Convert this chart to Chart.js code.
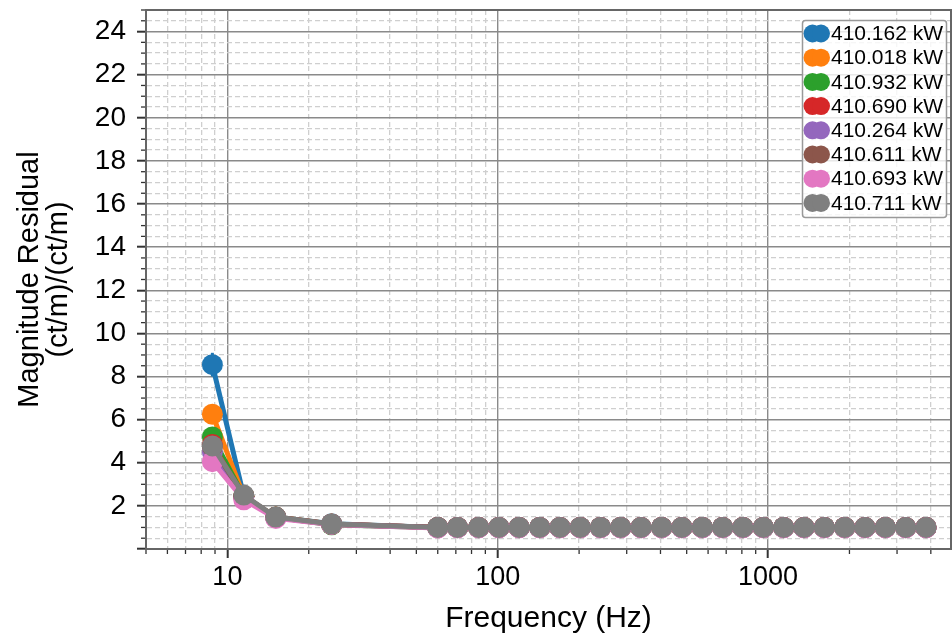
<!DOCTYPE html>
<html>
<head>
<meta charset="utf-8">
<script src="https://cdn.jsdelivr.net/npm/chart.js@4.4.1/dist/chart.umd.min.js"></script>
<style>
  body { margin: 0; background: #fff; }
  #wrap { width: 952px; height: 638px; }
</style>
</head>
<body>
<div id="wrap"><canvas id="chart" width="952" height="638"></canvas></div>
<script>
// Frequencies (Hz)
const freqs = [8.8, 11.5, 15.1, 24.3, 60, 71, 85, 101, 120, 143, 170, 202, 240, 285, 339, 404,
  480, 571, 679, 807, 960, 1142, 1358, 1615, 1920, 2283, 2715, 3229, 3840];

const labels = ['410.162 kW', '410.018 kW', '410.932 kW', '410.690 kW',
  '410.264 kW', '410.611 kW', '410.693 kW', '410.711 kW'];
const colors = ['#1f77b4', '#ff7f0e', '#2ca02c', '#d62728', '#9467bd', '#8c564b', '#e377c2', '#7f7f7f'];

// Magnitude residual per series
const blue = [8.55, 2.45, 1.48, 1.17, 1.0, 1.0, 1.0, 1.0, 1.0, 1.0, 1.0, 1.0, 1.0, 1.0, 1.0, 1.0, 1.0, 1.0, 1.0, 1.0, 1.0, 1.0, 1.0, 1.0, 1.0, 1.0, 1.0, 1.0, 1.0];
const orange = [6.25, 2.45, 1.48, 1.16, 1.0, 1.0, 1.0, 1.0, 1.0, 1.0, 1.0, 1.0, 1.0, 1.0, 1.0, 1.0, 1.0, 1.0, 1.0, 1.0, 1.0, 1.0, 1.0, 1.0, 1.0, 1.0, 1.0, 1.0, 1.0];
const green = [5.2, 2.45, 1.47, 1.12, 0.99, 0.99, 0.99, 0.99, 0.99, 0.99, 0.99, 0.99, 0.99, 0.99, 0.99, 0.99, 0.99, 0.99, 0.99, 0.99, 0.99, 0.99, 0.99, 0.99, 0.99, 0.99, 0.99, 0.99, 0.99];
const red = [4.85, 2.45, 1.47, 1.15, 1.0, 1.0, 1.0, 1.0, 1.0, 1.0, 1.0, 1.0, 1.0, 1.0, 1.0, 1.0, 1.0, 1.0, 1.0, 1.0, 1.0, 1.0, 1.0, 1.0, 1.0, 1.0, 1.0, 1.0, 1.0];
const purple = [4.5, 2.4, 1.46, 1.15, 1.0, 1.0, 1.0, 1.0, 1.0, 1.0, 1.0, 1.0, 1.0, 1.0, 1.0, 1.0, 1.0, 1.0, 1.0, 1.0, 1.0, 1.0, 1.0, 1.0, 1.0, 1.0, 1.0, 1.0, 1.0];
const brown = [4.75, 2.45, 1.47, 1.15, 1.0, 1.0, 1.0, 1.0, 1.0, 1.0, 1.0, 1.0, 1.0, 1.0, 1.0, 1.0, 1.0, 1.0, 1.0, 1.0, 1.0, 1.0, 1.0, 1.0, 1.0, 1.0, 1.0, 1.0, 1.0];
const pink = [4.05, 2.28, 1.42, 1.14, 0.97, 0.98, 0.98, 0.98, 0.98, 0.98, 0.98, 0.98, 0.98, 0.98, 0.98, 0.98, 0.98, 0.98, 0.98, 0.98, 0.98, 0.98, 0.98, 0.98, 0.98, 0.98, 0.98, 0.98, 0.98];
const gray = [4.78, 2.5, 1.48, 1.16, 1.0, 1.0, 1.0, 1.0, 1.0, 1.0, 1.0, 1.0, 1.0, 1.0, 1.0, 1.0, 1.0, 1.0, 1.0, 1.0, 1.0, 1.0, 1.0, 1.0, 1.0, 1.0, 1.0, 1.0, 1.0];
const series = [blue, orange, green, red, purple, brown, pink, gray];

// Error on the lowest-frequency point of each series
const lowErr = [0.55, 0.3, 0.25, 0.2, 0.2, 0.2, 0.2, 0.2];

// Tick values
const xMajor = [10, 100, 1000];
const xMinor = [5, 6, 7, 8, 9, 20, 30, 40, 50, 60, 70, 80, 90,
  200, 300, 400, 500, 600, 700, 800, 900, 2000, 3000, 4000];
const yMajor = [0, 2, 4, 6, 8, 10, 12, 14, 16, 18, 20, 22, 24];
const yMinor = [0.5, 1, 1.5, 2.5, 3, 3.5, 4.5, 5, 5.5, 6.5, 7, 7.5, 8.5, 9, 9.5,
  10.5, 11, 11.5, 12.5, 13, 13.5, 14.5, 15, 15.5, 16.5, 17, 17.5, 18.5, 19, 19.5,
  20.5, 21, 21.5, 22.5, 23, 23.5, 24.5, 25];

const FONT = "'Liberation Sans', Arial, Helvetica, sans-serif";

function makeTicks(major, minor) {
  const t = major.map(v => ({ value: v, major: true }))
    .concat(minor.map(v => ({ value: v, major: false })));
  return t.sort((a, b) => a.value - b.value);
}

const datasets = series.map((data, i) => ({
  label: labels[i],
  data: data.map((y, j) => ({ x: freqs[j], y: y })),
  borderColor: colors[i],
  backgroundColor: colors[i],
  pointBackgroundColor: colors[i],
  pointBorderWidth: 0,
  pointRadius: 10.5,
  borderWidth: 5,
  tension: 0,
  order: series.length - 1 - i
}));

function gridColor(ctx) {
  return ctx.tick && ctx.tick.major ? '#8a8a8a' : '#cfcfcf';
}
function gridWidth(ctx) {
  return ctx.tick && ctx.tick.major ? 1.4 : 1.3;
}
function gridDash(ctx) {
  return ctx.tick && ctx.tick.major ? [] : [5, 3];
}
function tickColor(ctx) {
  return ctx.tick && ctx.tick.major ? '#333' : 'rgba(0,0,0,0)';
}

// Error bars, drawn under each series' line and markers
const errorBars = {
  id: 'errorBars',
  beforeDatasetDraw(chart, args) {
    const i = args.index;
    const yScale = chart.scales.y;
    const xScale = chart.scales.x;
    const ctx = chart.ctx;
    const x = xScale.getPixelForValue(freqs[0]);
    const y = series[i][0];
    ctx.save();
    ctx.strokeStyle = colors[i];
    ctx.lineWidth = 3;
    ctx.beginPath();
    ctx.moveTo(x, yScale.getPixelForValue(y - lowErr[i]));
    ctx.lineTo(x, yScale.getPixelForValue(y + lowErr[i]));
    ctx.stroke();
    ctx.restore();
  }
};

// Minor tick marks, spines and legend box
const decorations = {
  id: 'decorations',
  afterDatasetsDraw(chart) {
    const ctx = chart.ctx;
    const a = chart.chartArea;
    ctx.save();
    ctx.strokeStyle = '#333';
    ctx.lineWidth = 1.3;
    chart.scales.x.ticks.forEach(t => {
      if (t.major) return;
      const px = chart.scales.x.getPixelForValue(t.value);
      ctx.beginPath();
      ctx.moveTo(px, a.bottom);
      ctx.lineTo(px, a.bottom + 5);
      ctx.stroke();
    });
    chart.scales.y.ticks.forEach(t => {
      if (t.major) return;
      const py = chart.scales.y.getPixelForValue(t.value);
      ctx.beginPath();
      ctx.moveTo(a.left, py);
      ctx.lineTo(a.left - 5, py);
      ctx.stroke();
    });
    ctx.strokeStyle = '#666';
    ctx.lineWidth = 2;
    ctx.strokeRect(a.left, a.top, a.right - a.left, a.bottom - a.top);
    ctx.restore();
  },
  afterDraw(chart) {
    const ctx = chart.ctx;
    const box = { x: 802.5, y: 20.5, w: 144, h: 197 };
    const rowH = 24.2;
    ctx.save();
    ctx.fillStyle = 'rgba(255,255,255,0.8)';
    ctx.strokeStyle = '#999';
    ctx.lineWidth = 1.5;
    ctx.beginPath();
    ctx.roundRect(box.x, box.y, box.w, box.h, 3);
    ctx.fill();
    ctx.stroke();
    ctx.font = '21px ' + FONT;
    ctx.textBaseline = 'middle';
    labels.forEach((lab, i) => {
      const cy = box.y + 13 + i * rowH;
      ctx.fillStyle = colors[i];
      [812.5, 821].forEach(cx => {
        ctx.beginPath();
        ctx.arc(cx, cy, 9, 0, Math.PI * 2);
        ctx.fill();
      });
      ctx.fillStyle = '#000';
      ctx.fillText(lab, 831, cy + 1);
    });
    ctx.restore();
  }
};

new Chart(document.getElementById('chart'), {
  type: 'line',
  data: { datasets: datasets },
  plugins: [errorBars, decorations],
  options: {
    responsive: false,
    animation: false,
    devicePixelRatio: 1,
    layout: { autoPadding: false, padding: { top: 10, right: 1, left: 0, bottom: 0 } },
    plugins: {
      legend: { display: false },
      tooltip: { enabled: false }
    },
    scales: {
      x: {
        type: 'logarithmic',
        min: 5,
        max: 4750,
        afterBuildTicks: scale => { scale.ticks = makeTicks(xMajor, xMinor); },
        afterFit: scale => {
          scale.height = 89;
          scale.paddingLeft = 0;
          scale.paddingRight = 0;
        },
        ticks: {
          autoSkip: false,
          maxRotation: 0,
          padding: 3,
          color: '#000',
          font: { family: FONT, size: 27 },
          callback: v => xMajor.includes(v) ? String(v) : ''
        },
        grid: {
          color: gridColor,
          lineWidth: gridWidth,
          tickLength: 9,
          tickWidth: 2,
          tickColor: tickColor
        },
        border: { color: '#666', width: 2, dash: gridDash },
        title: {
          display: true,
          text: 'Frequency (Hz)',
          color: '#000',
          font: { family: FONT, size: 30 },
          padding: { top: 0, bottom: 1 }
        }
      },
      y: {
        type: 'linear',
        min: 0,
        max: 25,
        afterBuildTicks: scale => { scale.ticks = makeTicks(yMajor, yMinor); },
        afterFit: scale => {
          scale.width = 146;
          scale.paddingTop = 0;
          scale.paddingBottom = 0;
        },
        ticks: {
          autoSkip: false,
          padding: 11,
          color: '#000',
          font: { family: FONT, size: 28 },
          callback: v => (yMajor.includes(v) && v !== 0) ? String(v) : ''
        },
        grid: {
          color: gridColor,
          lineWidth: gridWidth,
          tickLength: 9,
          tickWidth: 2,
          tickColor: tickColor
        },
        border: { color: '#666', width: 2, dash: gridDash },
        title: {
          display: true,
          text: ['Magnitude Residual', '(ct/m)/(ct/m)'],
          color: '#000',
          font: { family: FONT, size: 29, lineHeight: 1.0 },
          padding: { top: 15, bottom: 0 }
        }
      }
    }
  }
});
</script>
</body>
</html>
